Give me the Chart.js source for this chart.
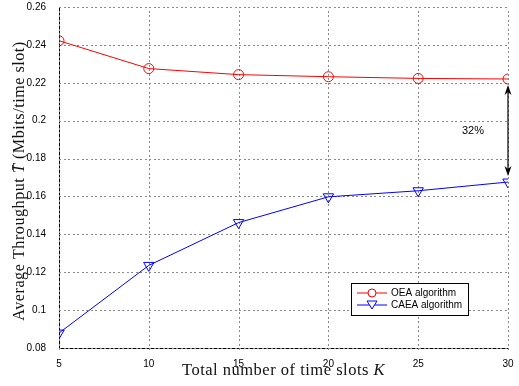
<!DOCTYPE html>
<html>
<head>
<meta charset="utf-8">
<script src="https://cdn.jsdelivr.net/npm/chart.js@4.4.1/dist/chart.umd.min.js"></script>
<style>
    html, body { margin: 0; padding: 0; background: #fff; }
    #wrap { width: 519px; height: 386px; position: relative; }
</style>
</head>
<body>
<div id="wrap"><canvas id="chart"></canvas></div>
<script>
    // data
    const slots = [5, 10, 15, 20, 25, 30];
    const oeaValues = [0.2422, 0.2275, 0.2243, 0.2232, 0.2223, 0.2220];
    const caeaValues = [0.0879, 0.1236, 0.1462, 0.1598, 0.1630, 0.1676];
    const yTicks = [0.08, 0.1, 0.12, 0.14, 0.16, 0.18, 0.2, 0.22, 0.24, 0.26];
    const xTicks = [5, 10, 15, 20, 25, 30];
    const seriesNames = ['OEA algorithm', 'CAEA algorithm'];
    const gainText = '32%';
    const gainLabelAt = { x: 28.05, y: 0.1944 };

    const tickFont = { family: 'Liberation Sans', size: 10 };
    const titleFamily = 'Liberation Serif';

    function toPoints(ys) {
        return slots.map(function (x, i) { return { x: x, y: ys[i] }; });
    }

    // draws a title made of plain and italic pieces, centred on (cx, cy)
    function drawRichText(ctx, parts, cx, cy, angle, size) {
        ctx.save();
        ctx.translate(cx, cy);
        ctx.rotate(angle);
        ctx.fillStyle = '#111';
        ctx.textBaseline = 'middle';
        ctx.textAlign = 'left';
        ctx.letterSpacing = '0.5px';
        let total = 0;
        parts.forEach(function (p) {
            ctx.font = (p.italic ? 'italic ' : '') + size + 'px "' + titleFamily + '"';
            p.w = ctx.measureText(p.text).width;
            total += p.w;
        });
        let x = -total / 2;
        parts.forEach(function (p) {
            ctx.font = (p.italic ? 'italic ' : '') + size + 'px "' + titleFamily + '"';
            ctx.fillText(p.text, x, 0);
            x += p.w;
        });
        ctx.restore();
    }

    function arrowHead(ctx, x, y, dir) {
        ctx.beginPath();
        ctx.moveTo(x, y);
        ctx.lineTo(x - 3.5, y - dir * 10);
        ctx.lineTo(x, y - dir * 7);
        ctx.lineTo(x + 3.5, y - dir * 10);
        ctx.closePath();
        ctx.fill();
    }

    // dotted grid, drawn under the lines
    const gridPlugin = {
        id: 'dottedGrid',
        beforeDatasetsDraw: function (chart) {
            const ctx = chart.ctx;
            const xs = chart.scales.x;
            const ys = chart.scales.y;
            const area = chart.chartArea;
            const step = 4.5;
            ctx.save();
            ctx.fillStyle = '#8a8a8a';
            xTicks.forEach(function (v) {
                const px = Math.round(xs.getPixelForValue(v));
                for (let y = area.bottom; y >= area.top; y -= step) {
                    ctx.fillRect(px, Math.round(y), 1, 2);
                }
            });
            yTicks.forEach(function (v) {
                const py = Math.round(ys.getPixelForValue(v));
                for (let x = area.left; x <= area.right; x += step) {
                    ctx.fillRect(Math.round(x), py, 2, 1);
                }
            });
            ctx.restore();
        }
    };

    const extrasPlugin = {
        id: 'extras',
        afterDraw: function (chart) {
            const ctx = chart.ctx;
            const xs = chart.scales.x;
            const ys = chart.scales.y;
            const area = chart.chartArea;

            // double arrow between the two last points
            const ax = xs.getPixelForValue(slots[slots.length - 1]);
            const yTop = ys.getPixelForValue(oeaValues[oeaValues.length - 1]) + 6;
            const yBot = ys.getPixelForValue(caeaValues[caeaValues.length - 1]) - 6;
            ctx.save();
            ctx.strokeStyle = '#000';
            ctx.fillStyle = '#000';
            ctx.lineWidth = 1.2;
            ctx.beginPath();
            ctx.moveTo(ax, yTop + 5);
            ctx.lineTo(ax, yBot - 5);
            ctx.stroke();
            arrowHead(ctx, ax, yTop, -1);
            arrowHead(ctx, ax, yBot, 1);

            ctx.font = '11px "Liberation Sans"';
            ctx.textAlign = 'center';
            ctx.textBaseline = 'middle';
            ctx.fillText(gainText, xs.getPixelForValue(gainLabelAt.x), ys.getPixelForValue(gainLabelAt.y));
            ctx.restore();

            // legend box inside the plot, lower right
            const bw = 117, bh = 32;
            const bx = area.right - 40 - bw;
            const by = area.bottom - 33 - bh;
            ctx.save();
            ctx.fillStyle = '#fff';
            ctx.fillRect(bx, by, bw, bh);
            ctx.strokeStyle = '#000';
            ctx.lineWidth = 1;
            ctx.strokeRect(bx + 0.5, by + 0.5, bw, bh);
            const colors = ['#ff0000', '#0000ff'];
            const rows = [by + 10, by + 22];
            rows.forEach(function (ry, i) {
                ctx.strokeStyle = colors[i];
                ctx.lineWidth = 1;
                ctx.beginPath();
                ctx.moveTo(bx + 6, ry);
                ctx.lineTo(bx + 36, ry);
                ctx.stroke();
                ctx.beginPath();
                if (i === 0) {
                    ctx.arc(bx + 21, ry, 4, 0, Math.PI * 2);
                } else {
                    ctx.moveTo(bx + 16, ry - 4);
                    ctx.lineTo(bx + 26, ry - 4);
                    ctx.lineTo(bx + 21, ry + 4);
                    ctx.closePath();
                }
                ctx.fillStyle = '#fff';
                ctx.fill();
                ctx.stroke();
                ctx.fillStyle = '#000';
                ctx.font = '10px "Liberation Sans"';
                ctx.textAlign = 'left';
                ctx.textBaseline = 'middle';
                ctx.fillText(seriesNames[i], bx + 40, ry);
            });
            ctx.restore();

            // axis titles
            drawRichText(ctx, [
                { text: 'Total number of time slots ' },
                { text: 'K', italic: true }
            ], (area.left + area.right) / 2, 371, 0, 16.5);
            drawRichText(ctx, [
                { text: 'Average Throughput ' },
                { text: 'T\u0304', italic: true },
                { text: ' (Mbits/time slot)' }
            ], 20, 181, -Math.PI / 2, 16.2);
        }
    };

    const ctx = document.getElementById('chart').getContext('2d');
    new Chart(ctx, {
        type: 'line',
        data: {
            datasets: [
                {
                    label: seriesNames[0],
                    data: toPoints(oeaValues),
                    borderColor: '#ff0000',
                    backgroundColor: 'rgba(0,0,0,0)',
                    borderWidth: 1,
                    pointStyle: 'circle',
                    pointRadius: 5,
                    pointBorderWidth: 1,
                    pointBorderColor: '#ff0000',
                    pointBackgroundColor: 'rgba(0,0,0,0)',
                    tension: 0
                },
                {
                    label: seriesNames[1],
                    data: toPoints(caeaValues),
                    borderColor: '#0000ff',
                    backgroundColor: 'rgba(0,0,0,0)',
                    borderWidth: 1,
                    pointStyle: 'triangle',
                    pointRotation: 180,
                    pointRadius: 6,
                    pointBorderWidth: 1,
                    pointBorderColor: '#0000ff',
                    pointBackgroundColor: 'rgba(0,0,0,0)',
                    tension: 0
                }
            ]
        },
        options: {
            responsive: true,
            maintainAspectRatio: false,
            animation: false,
            layout: { padding: { top: 5, right: 11, bottom: 0, left: 0 } },
            plugins: {
                legend: { display: false },
                tooltip: { enabled: false }
            },
            scales: {
                x: {
                    type: 'linear',
                    min: 5,
                    max: 30,
                    afterBuildTicks: function (scale) {
                        scale.ticks = xTicks.map(function (v) { return { value: v }; });
                    },
                    afterFit: function (scale) {
                        scale.height = 38;
                        scale.paddingLeft = 0;
                        scale.paddingRight = 0;
                    },
                    ticks: { font: tickFont, color: '#000', padding: 2, maxRotation: 0 },
                    grid: { display: false },
                    border: { display: true, color: '#000', width: 1 }
                },
                y: {
                    min: 0.08,
                    max: 0.26,
                    afterBuildTicks: function (scale) {
                        scale.ticks = yTicks.map(function (v) { return { value: v }; });
                    },
                    afterFit: function (scale) {
                        scale.width = 59;
                        scale.paddingTop = 0;
                        scale.paddingBottom = 0;
                    },
                    ticks: {
                        font: tickFont,
                        color: '#000',
                        padding: 5,
                        callback: function (v) { return String(parseFloat(Number(v).toFixed(2))); }
                    },
                    grid: { display: false },
                    border: { display: true, color: '#000', width: 1 }
                }
            }
        },
        plugins: [gridPlugin, extrasPlugin]
    });
</script>
</body>
</html>
